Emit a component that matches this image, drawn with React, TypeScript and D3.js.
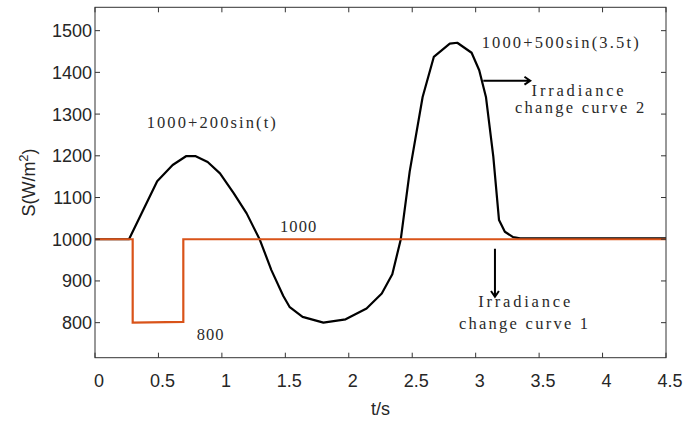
import React from "react";
import * as d3 from "d3";

const W = 686;
const H = 424;

const xTicks = [0, 0.5, 1, 1.5, 2, 2.5, 3, 3.5, 4, 4.5];
const yTicks = [800, 900, 1000, 1100, 1200, 1300, 1400, 1500];

// Irradiance change curve 2 (black)
const curve2T = [0, 0.268, 0.49, 0.612, 0.717, 0.794, 0.888, 0.985, 1.094, 1.195, 1.3, 1.39, 1.484, 1.535, 1.636, 1.8, 1.975, 2.14, 2.26, 2.343, 2.41, 2.48, 2.582, 2.67, 2.796, 2.855, 2.968, 3.028, 3.081, 3.139, 3.184, 3.23, 3.295, 3.35, 4.5];
const curve2S = [1000, 1000, 1139, 1178, 1199, 1199, 1185, 1158, 1110, 1062, 998, 926, 864, 837, 814, 800, 808, 834, 870, 916, 1000, 1162, 1341, 1437, 1469, 1471, 1447, 1405, 1341, 1198, 1046, 1018, 1005, 1002, 1002];

// Irradiance change curve 1 (orange step)
const curve1T = [0, 0.297, 0.297, 0.696, 0.696, 4.5];
const curve1S = [1000, 1000, 800, 802, 1000, 1000];

// annotations: text, start t, baseline S
const labelTexts = ["1000+200sin(t)", "1000", "800", "1000+500sin(3.5t)", "Irradiance", "change curve 2", "Irradiance", "change curve 1"];
const labelT = [0.407, 1.458, 0.801, 3.047, 3.441, 3.31, 3.02, 2.868];
const labelS = [1266, 1018, 758, 1458, 1344, 1302, 838, 785];

// arrows: start (t,S) -> end (t,S)
const arrowT0 = [3.06, 3.152];
const arrowS0 = [1380, 977];
const arrowT1 = [3.43, 3.152];
const arrowS1 = [1380, 862];

export default function App() {
  const left = 95, right = 666, top = 7.3, bottom = 357.7;
  const x = d3.scaleLinear().domain([0, 4.5]).range([left, right]);
  const y = d3.scaleLinear().domain([716, 1556]).range([bottom, top]);
  const axisColor = "#333333";
  const tickLen = 5;
  const charW = 9.3;

  const line = d3
    .line<[number, number]>()
    .x((d) => x(d[0]))
    .y((d) => y(d[1]));

  const c2 = curve2T.map((t, i) => [t, curve2S[i]] as [number, number]);
  const c1 = curve1T.map((t, i) => [t, curve1S[i]] as [number, number]);

  const arrows = arrowT0.map((t0, i) => {
    const x0 = x(t0), y0 = y(arrowS0[i]);
    const x1 = x(arrowT1[i]), y1 = y(arrowS1[i]);
    const ang = Math.atan2(y1 - y0, x1 - x0);
    const hl = 7, ha = 0.6;
    const ax = x1 - hl * Math.cos(ang - ha), ay = y1 - hl * Math.sin(ang - ha);
    const bx = x1 - hl * Math.cos(ang + ha), by = y1 - hl * Math.sin(ang + ha);
    return `M${x0},${y0}L${x1},${y1}M${ax},${ay}L${x1},${y1}L${bx},${by}`;
  });

  return (
    <svg width={W} height={H} style={{ position: "absolute", left: 0, top: 0, background: "#fff" }}>
      <rect x={0} y={0} width={W} height={H} fill="#fff" />
      {/* curves */}
      <path d={line(c2) || ""} fill="none" stroke="#000" strokeWidth={2.2} strokeLinejoin="round" />
      <path d={line(c1) || ""} fill="none" stroke="#D95319" strokeWidth={2.2} />
      {/* frame */}
      <rect x={left} y={top} width={right - left} height={bottom - top} fill="none" stroke={axisColor} strokeWidth={1} />
      {/* x ticks */}
      {xTicks.map((t) => (
        <g key={"xt" + t}>
          <line x1={x(t)} x2={x(t)} y1={bottom} y2={bottom - tickLen} stroke={axisColor} />
          <line x1={x(t)} x2={x(t)} y1={top} y2={top + tickLen} stroke={axisColor} />
          <text x={x(t) + 4} y={bottom + 29} textAnchor="middle" fontFamily="Liberation Sans, Arial, sans-serif" fontSize={18} fill="#262626">
            {t}
          </text>
        </g>
      ))}
      {/* y ticks */}
      {yTicks.map((s) => (
        <g key={"yt" + s}>
          <line x1={left} x2={left + tickLen} y1={y(s)} y2={y(s)} stroke={axisColor} />
          <line x1={right} x2={right - tickLen} y1={y(s)} y2={y(s)} stroke={axisColor} />
          <text x={left - 3} y={y(s) + 6.5} textAnchor="end" fontFamily="Liberation Sans, Arial, sans-serif" fontSize={18} fill="#262626">
            {s}
          </text>
        </g>
      ))}
      {/* axis labels */}
      <text x={(left + right) / 2} y={415} textAnchor="middle" fontFamily="Liberation Sans, Arial, sans-serif" fontSize={18} fill="#262626">
        t/s
      </text>
      <text
        transform={`translate(35, ${(top + bottom) / 2}) rotate(-90)`}
        textAnchor="middle"
        fontFamily="Liberation Sans, Arial, sans-serif"
        fontSize={18}
        fill="#262626"
      >
        S(W/m<tspan dy={-7} fontSize={13}>2</tspan><tspan dy={7}>)</tspan>
      </text>
      {/* annotations */}
      {labelTexts.map((s, i) => (
        <text
          key={"lb" + i}
          x={x(labelT[i])}
          y={y(labelS[i])}
          fontFamily="Liberation Serif, 'DejaVu Serif', serif"
          fontSize={16.5}
          fill="#2a2a2a"
          textLength={s.length * charW - 1}
          lengthAdjust="spacing"
        >
          {s}
        </text>
      ))}
      {arrows.map((d, i) => (
        <path key={"ar" + i} d={d} fill="none" stroke="#000" strokeWidth={2} />
      ))}
    </svg>
  );
}
